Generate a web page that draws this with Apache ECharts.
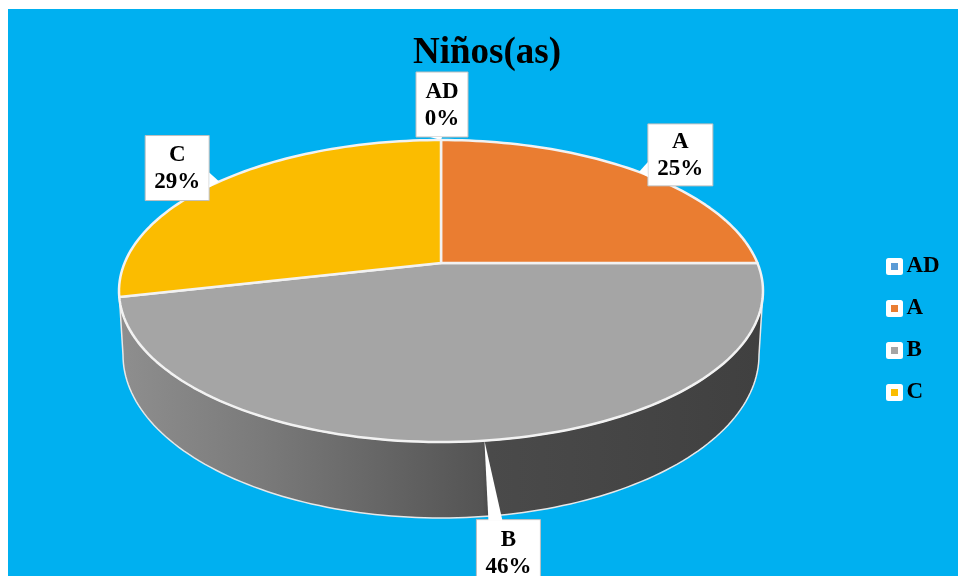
<!DOCTYPE html>
<html><head><meta charset="utf-8">
<style>html,body{margin:0;padding:0;background:#fff}#c{width:958px;height:576px}</style>
<script src="https://cdn.jsdelivr.net/npm/echarts@6/dist/echarts.min.js"></script>
</head><body><div id="c"></div>
<script>
const categories = ['AD', 'A', 'B', 'C'];
const counts = [0, 7, 13, 8];
const colors = ['#5B9BD5', '#EA7D31', '#A5A5A5', '#FBBC00'];
const chartTitle = 'Niños(as)';

const FONT = '"Liberation Serif","Times New Roman",serif';
const TOP = {cx: 441, cy: 291, rx: 322, ry: 151};
const BOTTOM = {cx: 441, cy: 355, rx: 318, ry: 163};
const TILT = 0.185;          // perspective shift of the pie's apex
const total = counts.reduce((a, b) => a + b, 0);

// box is relative to the leader anchor: dx, dy, w, h; base = leader base on box edge
const callouts = {
  AD: {box: [-25, -68, 52, 65], base: [[-11, -3], [1, -3]]},
  A:  {box: [9, -48, 65, 62],   base: [[9, -10], [9, 5]]},
  B:  {box: [-8, 79, 64, 66],   base: [[4, 80], [18, 80]]},
  C:  {box: [-74, -46, 64, 65], base: [[-10, -9], [-10, 6]]}
};

function rimPoint(frac) {
  const a = frac * 2 * Math.PI, u = Math.sin(a), v = Math.cos(a);
  const den = 1 + TILT * v;
  return [TOP.cx + TOP.rx * u * Math.sqrt(1 - TILT * TILT) / den,
          TOP.cy - TOP.ry * (v + TILT) / den];
}
function apex() { return [TOP.cx, TOP.cy - TOP.ry * TILT]; }

function sidePolygon() {
  const pts = [];
  for (let i = 0; i <= 120; i++) {
    const t = Math.PI * i / 120;
    pts.push([TOP.cx - TOP.rx * Math.cos(t), TOP.cy + TOP.ry * Math.sin(t)]);
  }
  for (let i = 120; i >= 0; i--) {
    const t = Math.PI * i / 120;
    pts.push([BOTTOM.cx - BOTTOM.rx * Math.cos(t), BOTTOM.cy + BOTTOM.ry * Math.sin(t)]);
  }
  return pts;
}

function makeRender(idx) {
  return function (params, api) {
    const value = api.value(0);
    const start = counts.slice(0, idx).reduce((a, b) => a + b, 0) / total;
    const end = start + value / total;
    const children = [];
    if (categories[idx] === 'B') {
      children.push({
        type: 'polygon', shape: {points: sidePolygon()},
        style: {
          fill: {type: 'linear', x: 122, y: 0, x2: 760, y2: 0, global: true, colorStops: [
            {offset: 0, color: '#8E8E8E'},
            {offset: 0.22, color: '#7A7A7A'},
            {offset: 0.565, color: '#545454'},
            {offset: 0.575, color: '#4A4A4A'},
            {offset: 1, color: '#404040'}
          ]},
          stroke: '#E8E8E8', lineWidth: 1.5
        }
      });
    }
    if (value > 0) {
      const pts = [apex()];
      const n = Math.max(2, Math.round((end - start) * 240));
      for (let i = 0; i <= n; i++) pts.push(rimPoint(start + (end - start) * i / n));
      children.push({
        type: 'polygon', shape: {points: pts},
        style: {fill: api.visual('color'), stroke: '#F2F2F2', lineWidth: 2.5, lineJoin: 'round'}
      });
    }
    const anchor = rimPoint((start + end) / 2);
    const c = callouts[categories[idx]];
    const [dx, dy, w, h] = c.box;
    const x = anchor[0] + dx, y = anchor[1] + dy;
    children.push({
      type: 'rect', shape: {x, y, width: w, height: h},
      style: {fill: '#fff', stroke: '#BFBFBF', lineWidth: 1}
    });
    children.push({
      type: 'polygon',
      shape: {points: [anchor,
        [anchor[0] + c.base[0][0], anchor[1] + c.base[0][1]],
        [anchor[0] + c.base[1][0], anchor[1] + c.base[1][1]]]},
      style: {fill: '#fff'}
    });
    children.push({
      type: 'text',
      style: {
        x: x + w / 2, y: y + h / 2 + 1,
        text: categories[idx] + '\n' + Math.round(value / total * 100) + '%',
        align: 'center', verticalAlign: 'middle',
        font: 'bold 23px ' + FONT, lineHeight: 27, fill: '#000'
      }
    });
    return {type: 'group', children};
  };
}

const chart = echarts.init(document.getElementById('c'), null, {renderer: 'canvas'});
chart.setOption({
  animation: false,
  backgroundColor: '#fff',
  graphic: [{type: 'rect', z: -10, shape: {x: 8, y: 9, width: 950, height: 567}, style: {fill: '#00B0F0'}, silent: true}],
  title: {
    text: chartTitle, left: 482, top: 30, textAlign: 'center',
    textStyle: {fontFamily: FONT, fontWeight: 'bold', fontSize: 37, color: '#000'}
  },
  legend: {
    data: categories, orient: 'vertical', left: 881, top: 250, selectedMode: false,
    icon: 'rect', itemWidth: 12, itemHeight: 12, itemGap: 19,
    itemStyle: {borderColor: '#fff', borderWidth: 5, borderJoin: 'round'},
    textStyle: {fontFamily: FONT, fontWeight: 'bold', fontSize: 23, color: '#000', padding: [0, 0, 0, 1]}
  },
  series: categories.map((name, i) => ({
    type: 'custom', name, coordinateSystem: 'none', silent: true,
    z: name === 'B' ? 2 : 3,
    itemStyle: {color: colors[i]},
    data: [[counts[i]]],
    renderItem: makeRender(i)
  }))
});
</script></body></html>
